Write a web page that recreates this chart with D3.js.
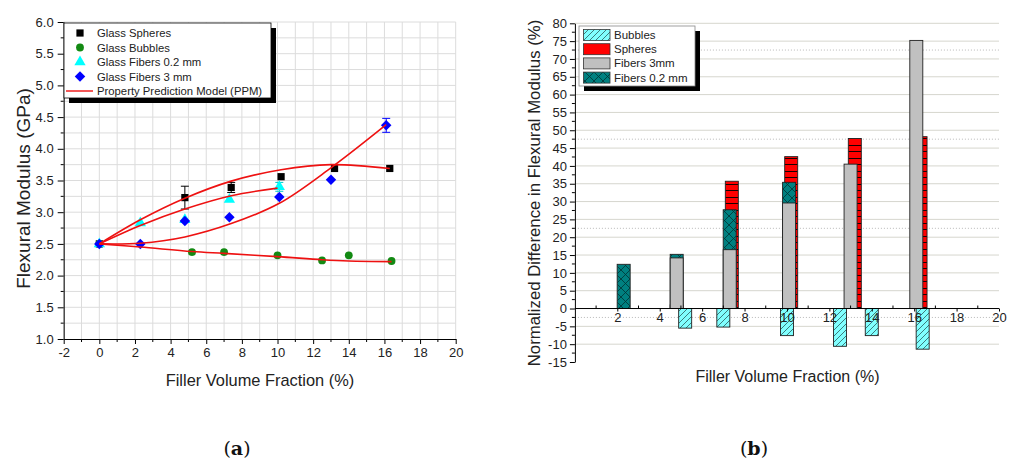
<!DOCTYPE html>
<html>
<head>
<meta charset="utf-8">
<script src="https://cdn.jsdelivr.net/npm/d3@7"></script>
<style>
  body { margin: 0; background: #fff; }
  svg { display: block; }
  text { font-family: Arial, "Liberation Sans", sans-serif; fill: #222; }
</style>
</head>
<body>
<div id="chart"></div>
<script>
// ---- panel (a): flexural modulus (GPa) ----
const spheresX = [0, 4.8, 7.4, 10.2, 13.2, 16.3];
const spheresY = [2.5, 3.23, 3.39, 3.56, 3.69, 3.69];
const spheresErr = [0, 0.18, 0.08, 0, 0, 0];
const bubblesX = [0, 5.2, 7.0, 10.0, 12.5, 14.0, 16.4];
const bubblesY = [2.5, 2.37, 2.37, 2.32, 2.24, 2.32, 2.23];
const fib02X = [0, 2.3, 4.8, 7.3, 10.1];
const fib02Y = [2.5, 2.83, 2.88, 3.20, 3.40];
const fib02Err = [0, 0, 0, 0, 0.07];
const fib3X = [0, 2.3, 4.8, 7.3, 10.1, 13.0, 16.1];
const fib3Y = [2.5, 2.50, 2.86, 2.92, 3.24, 3.51, 4.37];
const fib3Err = [0, 0, 0, 0, 0, 0, 0.11];

// property prediction model curves
const ppmSpheresX = [0, 2.3, 4.8, 7.4, 10.2, 13.0, 16.3];
const ppmSpheresY = [2.5, 2.88, 3.22, 3.49, 3.67, 3.75, 3.69];
const ppmFib02X = [0, 2.3, 4.8, 7.4, 10.0];
const ppmFib02Y = [2.5, 2.79, 3.05, 3.26, 3.38];
const ppmFib3X = [0, 2.3, 4.8, 7.4, 10.1, 13.0, 16.1];
const ppmFib3Y = [2.5, 2.51, 2.61, 2.82, 3.14, 3.70, 4.38];
const ppmBubblesX = [0, 2.3, 5.2, 7.0, 10.0, 12.5, 14.0, 16.4];
const ppmBubblesY = [2.5, 2.45, 2.38, 2.35, 2.30, 2.25, 2.23, 2.22];

const legendA = ['Glass Spheres', 'Glass Bubbles', 'Glass Fibers 0.2 mm', 'Glass Fibers 3 mm', 'Property Prediction Model (PPM)'];

// ---- panel (b): normalized difference (%) ----
const spheresDiffX = [4.8, 7.4, 10.2, 13.2, 16.3];
const spheresDiff = [1.0, 35.7, 42.6, 47.7, 48.2];
const fib02DiffX = [2.3, 4.8, 7.3, 10.1];
const fib02Diff = [12.4, 15.2, 27.7, 35.4];
const fib3DiffX = [2.3, 4.8, 7.3, 10.1, 13.0, 16.1];
const fib3Diff = [0, 14.2, 16.5, 29.6, 40.5, 75.2];
const bubblesDiffX = [5.2, 7.0, 10.0, 12.5, 14.0, 16.4];
const bubblesDiff = [-5.5, -5.2, -7.6, -10.6, -7.6, -11.4];

const legendB = ['Bubbles', 'Spheres', 'Fibers 3mm', 'Fibers 0.2 mm'];

const zip = (xs, ys) => xs.map((x, i) => ({x: x, y: ys[i]}));

const svg = d3.select('#chart').append('svg')
  .attr('width', 1012)
  .attr('height', 462);

// hatch patterns
const defs = svg.append('defs');
let p = defs.append('pattern').attr('id', 'hBubbles').attr('patternUnits', 'userSpaceOnUse')
  .attr('width', 6).attr('height', 6);
p.append('rect').attr('width', 6).attr('height', 6).attr('fill', '#80ffff');
p.append('path').attr('d', 'M0,6 L6,0 M-1,1 L1,-1 M5,7 L7,5').attr('stroke', '#2a5a5a').attr('stroke-width', 0.8);

p = defs.append('pattern').attr('id', 'hSpheres').attr('patternUnits', 'userSpaceOnUse')
  .attr('width', 14).attr('height', 13);
p.append('rect').attr('width', 14).attr('height', 13).attr('fill', '#ff0000');
p.append('path').attr('d', 'M0,2.5 H14 M0,8.5 H14').attr('stroke', '#000').attr('stroke-width', 0.9);

p = defs.append('pattern').attr('id', 'hFib02').attr('patternUnits', 'userSpaceOnUse')
  .attr('width', 9).attr('height', 9);
p.append('rect').attr('width', 9).attr('height', 9).attr('fill', '#008080');
p.append('path').attr('d', 'M0,0 L9,9 M9,0 L0,9').attr('stroke', '#033').attr('stroke-width', 0.8);

// ================= panel (a) =================
const xA = d3.scaleLinear().domain([-2, 20]).range([63.7, 455.7]);
const yA = d3.scaleLinear().domain([1, 6]).range([339, 22]);
const gA = svg.append('g');

// grid
gA.append('g').selectAll('line').data(d3.range(-2, 20.5, 1)).enter().append('line')
  .attr('x1', d => xA(d)).attr('x2', d => xA(d))
  .attr('y1', yA(1)).attr('y2', yA(6))
  .attr('stroke', '#dcdcdc').attr('stroke-width', 1);
gA.append('g').selectAll('line').data(d3.range(1.25, 6.01, 0.25)).enter().append('line')
  .attr('x1', xA(-2)).attr('x2', xA(20))
  .attr('y1', d => yA(d)).attr('y2', d => yA(d))
  .attr('stroke', '#dcdcdc').attr('stroke-width', 1);

// axes
const axA_x = gA.append('g').attr('transform', `translate(0,${yA(1)})`)
  .call(d3.axisBottom(xA).tickValues(d3.range(-2, 20.5, 2)).tickSize(5).tickSizeOuter(0).tickPadding(4)
    .tickFormat(d => String(d)));
axA_x.selectAll('text').style('font-size', '13px');
axA_x.append('g').selectAll('line').data(d3.range(-1, 20, 2)).enter().append('line')
  .attr('x1', d => xA(d)).attr('x2', d => xA(d)).attr('y1', 0).attr('y2', 3).attr('stroke', '#000');

const axA_y = gA.append('g').attr('transform', `translate(${xA(-2)},0)`)
  .call(d3.axisLeft(yA).tickValues(d3.range(1, 6.01, 0.5)).tickSize(6).tickSizeOuter(0).tickPadding(4)
    .tickFormat(d3.format('.1f')));
axA_y.selectAll('text').style('font-size', '13px');
axA_y.append('g').selectAll('line').data(d3.range(1.25, 6, 0.5)).enter().append('line')
  .attr('x1', 0).attr('x2', -3).attr('y1', d => yA(d)).attr('y2', d => yA(d)).attr('stroke', '#000');

gA.append('text').attr('x', 260).attr('y', 386)
  .attr('text-anchor', 'middle').style('font-size', '16.4px').text('Filler Volume Fraction (%)');
gA.append('text').attr('transform', 'translate(29.5,188.5) rotate(-90)')
  .attr('text-anchor', 'middle').style('font-size', '19px').text('Flexural Modulus (GPa)');

// error bars
function errBars(g, xs, ys, es, color) {
  const d = zip(xs, ys).map((o, i) => ({x: o.x, y: o.y, e: es[i]})).filter(o => o.e > 0);
  const eg = g.append('g').attr('stroke', color).attr('stroke-width', 1);
  d.forEach(o => {
    const cx = xA(o.x);
    eg.append('line').attr('x1', cx).attr('x2', cx).attr('y1', yA(o.y + o.e)).attr('y2', yA(o.y - o.e));
    eg.append('line').attr('x1', cx - 4).attr('x2', cx + 4).attr('y1', yA(o.y + o.e)).attr('y2', yA(o.y + o.e));
    eg.append('line').attr('x1', cx - 4).attr('x2', cx + 4).attr('y1', yA(o.y - o.e)).attr('y2', yA(o.y - o.e));
  });
}
errBars(gA, spheresX, spheresY, spheresErr, '#000');
errBars(gA, fib02X, fib02Y, fib02Err, '#00c8c8');
errBars(gA, fib3X, fib3Y, fib3Err, '#0000ff');

// markers (diamond = square turned 45deg)
const seriesA = [
  {xs: spheresX, ys: spheresY, type: d3.symbolSquare, size: 52, rot: 0, color: '#000'},
  {xs: bubblesX, ys: bubblesY, type: d3.symbolCircle, size: 48, rot: 0, color: '#138a13'},
  {xs: fib02X, ys: fib02Y, type: d3.symbolTriangle, size: 55, rot: 0, color: '#00ffff'},
  {xs: fib3X, ys: fib3Y, type: d3.symbolSquare, size: 55, rot: 45, color: '#0000ff'}
];
seriesA.forEach(s => {
  gA.append('g').selectAll('path').data(zip(s.xs, s.ys)).enter().append('path')
    .attr('transform', d => `translate(${xA(d.x)},${yA(d.y)}) rotate(${s.rot})`)
    .attr('d', d3.symbol().type(s.type).size(s.size))
    .attr('fill', s.color);
});

// model curves
const lineA = d3.line().x(d => xA(d.x)).y(d => yA(d.y)).curve(d3.curveCatmullRom.alpha(0.5));
[[ppmSpheresX, ppmSpheresY], [ppmFib02X, ppmFib02Y], [ppmFib3X, ppmFib3Y], [ppmBubblesX, ppmBubblesY]]
  .forEach(c => {
    gA.append('path').datum(zip(c[0], c[1]))
      .attr('d', lineA).attr('fill', 'none').attr('stroke', '#ee1111').attr('stroke-width', 1.6);
  });

// legend (a)
const lgA = gA.append('g');
lgA.append('rect').attr('x', 69).attr('y', 28).attr('width', 207).attr('height', 75).attr('fill', '#000');
lgA.append('rect').attr('x', 64).attr('y', 23).attr('width', 207).attr('height', 75)
  .attr('fill', '#fff').attr('stroke', '#000').attr('stroke-width', 0.8);
legendA.forEach((name, i) => {
  const ly = 33 + i * 14.5;
  if (i < 4) {
    lgA.append('path').attr('transform', `translate(80,${ly}) rotate(${seriesA[i].rot})`)
      .attr('d', d3.symbol().type(seriesA[i].type).size(seriesA[i].size))
      .attr('fill', seriesA[i].color);
  } else {
    lgA.append('line').attr('x1', 66).attr('x2', 93).attr('y1', ly).attr('y2', ly)
      .attr('stroke', '#ee1111').attr('stroke-width', 1.4);
  }
  lgA.append('text').attr('x', 97).attr('y', ly + 4).style('font-size', '11.3px').text(name);
});

// ================= panel (b) =================
const xB = d3.scaleLinear().domain([0, 20]).range([574.9, 999]);
const yB = d3.scaleLinear().domain([-15, 80]).range([362, 23.3]);
const gB = svg.append('g');

gB.append('g').selectAll('line').data(d3.range(-10, 80.5, 5)).enter().append('line')
  .attr('x1', xB(0)).attr('x2', xB(20))
  .attr('y1', d => yB(d)).attr('y2', d => yB(d))
  .attr('stroke', '#d6d6ce').attr('stroke-width', 1);
gB.append('g').selectAll('line').data([-2.5, 22.5, 47.5, 72.5]).enter().append('line')
  .attr('x1', xB(0)).attr('x2', xB(20))
  .attr('y1', d => yB(d)).attr('y2', d => yB(d))
  .attr('stroke', '#b8b8b8').attr('stroke-width', 1).attr('stroke-dasharray', '1,2');

// bars
const barW = 13;
function bars(xs, vs, fill) {
  gB.append('g').selectAll('rect').data(zip(xs, vs).filter(d => d.y !== 0)).enter().append('rect')
    .attr('x', d => xB(d.x) - barW / 2)
    .attr('y', d => yB(Math.max(0, d.y)))
    .attr('width', barW)
    .attr('height', d => Math.abs(yB(d.y) - yB(0)))
    .attr('fill', fill)
    .attr('stroke', '#222').attr('stroke-width', 0.9);
}
bars(spheresDiffX, spheresDiff, 'url(#hSpheres)');
bars(fib02DiffX, fib02Diff, 'url(#hFib02)');
bars(fib3DiffX, fib3Diff, '#c0c0c0');
bars(bubblesDiffX, bubblesDiff, 'url(#hBubbles)');

// axes (b)
const axB_x = gB.append('g').attr('transform', `translate(0,${yB(0)})`)
  .call(d3.axisBottom(xB).tickValues(d3.range(2, 20.5, 2)).tickSize(3).tickSizeOuter(0).tickPadding(1)
    .tickFormat(d => String(d)));
axB_x.select('.domain').attr('d', `M${xB(0)},0H${xB(20)}`);
axB_x.selectAll('text').style('font-size', '13px');
axB_x.append('g').selectAll('line').data(d3.range(1, 20, 2)).enter().append('line')
  .attr('x1', d => xB(d)).attr('x2', d => xB(d)).attr('y1', 0).attr('y2', -3).attr('stroke', '#000');

const axB_y = gB.append('g').attr('transform', `translate(${xB(0)},0)`)
  .call(d3.axisLeft(yB).tickValues(d3.range(-15, 80.5, 5)).tickSize(5).tickSizeOuter(0).tickPadding(3)
    .tickFormat(d => String(d)));
axB_y.selectAll('text').style('font-size', '13px');
axB_y.append('g').selectAll('line').data(d3.range(-12.5, 80, 5)).enter().append('line')
  .attr('x1', 0).attr('x2', -3).attr('y1', d => yB(d)).attr('y2', d => yB(d)).attr('stroke', '#000');

gB.append('text').attr('x', 787.5).attr('y', 382)
  .attr('text-anchor', 'middle').style('font-size', '16px').text('Filler Volume Fraction (%)');
gB.append('text').attr('transform', 'translate(539.5,193) rotate(-90)')
  .attr('text-anchor', 'middle').style('font-size', '16.8px').text('Normalized Difference in Flexural Modulus (%)');

// legend (b)
const lgB = gB.append('g');
lgB.append('rect').attr('x', 584).attr('y', 31).attr('width', 116).attr('height', 60).attr('fill', '#000');
lgB.append('rect').attr('x', 579).attr('y', 26).attr('width', 116).attr('height', 60)
  .attr('fill', '#fff').attr('stroke', '#888').attr('stroke-width', 0.8);
const swatch = ['url(#hBubbles)', '#ff0000', '#c0c0c0', 'url(#hFib02)'];
legendB.forEach((name, i) => {
  const ly = 29.5 + i * 14.2;
  lgB.append('rect').attr('x', 583.5).attr('y', ly).attr('width', 26.5).attr('height', 11)
    .attr('fill', swatch[i]).attr('stroke', '#333').attr('stroke-width', 0.8);
  lgB.append('text').attr('x', 614).attr('y', ly + 9.5).style('font-size', '11.5px').text(name);
});

// captions
[['a', 237], ['b', 754]].forEach(c => {
  const t = svg.append('text').attr('x', c[1]).attr('y', 455).attr('text-anchor', 'middle')
    .style('font-family', '"DejaVu Serif", serif').style('font-size', '19px').style('fill', '#111');
  t.append('tspan').text('(');
  t.append('tspan').style('font-weight', 'bold').text(c[0]);
  t.append('tspan').text(')');
});
</script>
</body>
</html>
